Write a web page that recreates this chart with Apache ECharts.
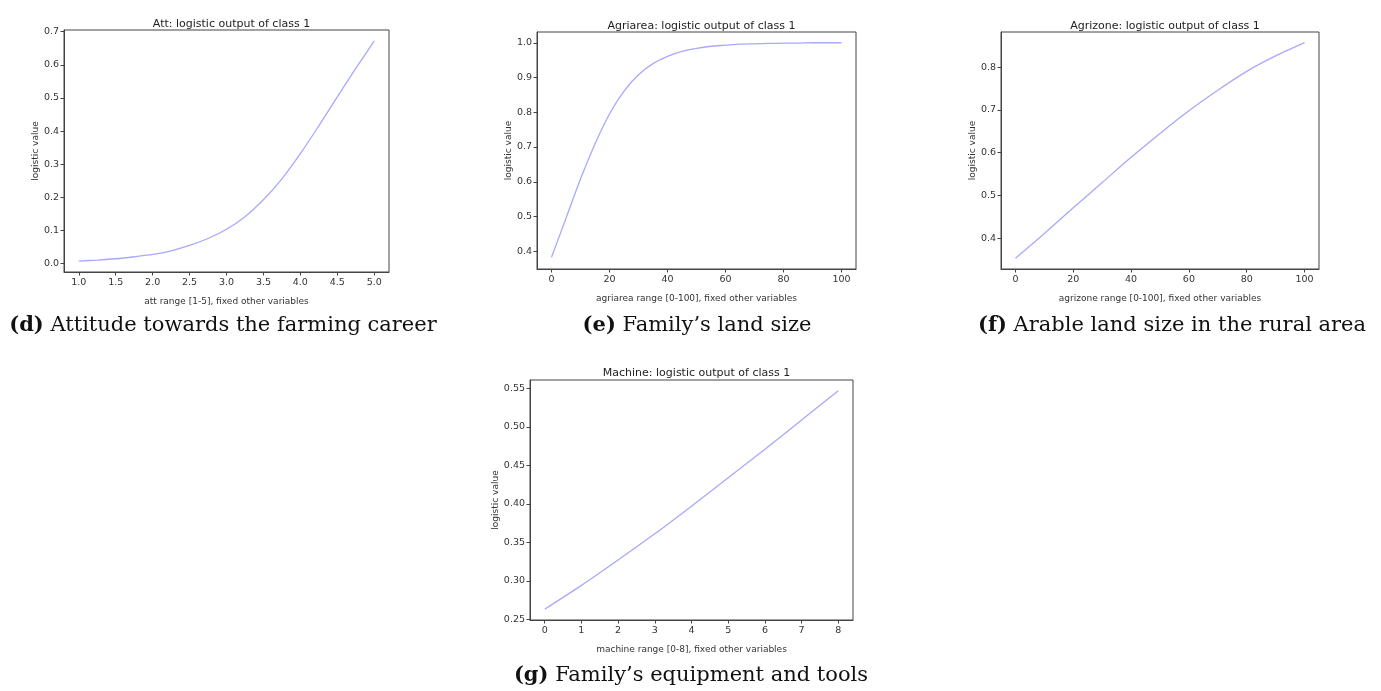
<!DOCTYPE html>
<html>
<head>
<meta charset="utf-8">
<script src="https://cdn.jsdelivr.net/npm/echarts@6/dist/echarts.min.js"></script>
<style>html,body{margin:0;padding:0;background:#fff;}#c{width:1381px;height:691px;}</style>
</head>
<body>
<div id="c"></div>
<script>
// ---- data ----
const attX = [1.0, 1.25, 1.5, 1.75, 2.0, 2.25, 2.5, 2.75, 3.0, 3.25, 3.5, 3.75, 4.0, 4.25, 4.5, 4.75, 5.0];
const attY = [0.008, 0.011, 0.015, 0.021, 0.028, 0.039, 0.055, 0.076, 0.104, 0.142, 0.193, 0.256, 0.332, 0.416, 0.503, 0.589, 0.672];

const agriareaX = [0, 5, 10, 15, 20, 25, 30, 35, 40, 45, 50, 55, 60, 65, 70, 75, 80, 85, 90, 95, 100];
const agriareaY = [0.383, 0.495, 0.608, 0.709, 0.795, 0.861, 0.908, 0.940, 0.961, 0.975, 0.984, 0.990, 0.993, 0.996, 0.997, 0.998, 0.999, 0.999, 1.0, 1.0, 1.0];

const agrizoneX = [0, 10, 20, 30, 40, 50, 60, 70, 80, 90, 100];
const agrizoneY = [0.353, 0.411, 0.471, 0.530, 0.589, 0.645, 0.698, 0.746, 0.790, 0.826, 0.857];

const machineX = [0, 1, 2, 3, 4, 5, 6, 7, 8];
const machineY = [0.263, 0.294, 0.327, 0.361, 0.397, 0.434, 0.471, 0.509, 0.547];

// tick labels
const attXTicks = [1.0, 1.5, 2.0, 2.5, 3.0, 3.5, 4.0, 4.5, 5.0];
const attYTicks = [0.0, 0.1, 0.2, 0.3, 0.4, 0.5, 0.6, 0.7];
const agriareaXTicks = [0, 20, 40, 60, 80, 100];
const agriareaYTicks = [0.4, 0.5, 0.6, 0.7, 0.8, 0.9, 1.0];
const agrizoneXTicks = [0, 20, 40, 60, 80, 100];
const agrizoneYTicks = [0.4, 0.5, 0.6, 0.7, 0.8];
const machineXTicks = [0, 1, 2, 3, 4, 5, 6, 7, 8];
const machineYTicks = [0.25, 0.30, 0.35, 0.40, 0.45, 0.50, 0.55];

const plotTitles = ['Att: logistic output of class 1', 'Agriarea: logistic output of class 1', 'Agrizone: logistic output of class 1', 'Machine: logistic output of class 1'];
const xNames = ['att range [1-5], fixed other variables', 'agriarea range [0-100], fixed other variables', 'agrizone range [0-100], fixed other variables', 'machine range [0-8], fixed other variables'];
const captionLetters = ['d', 'e', 'f', 'g'];
const captionTexts = ['Attitude towards the farming career', 'Family\u2019s land size', 'Arable land size in the rural area', 'Family\u2019s equipment and tools'];

// ---- layout ----
const FONT = 'DejaVu Sans';
const TXT = '#333';
const grids = [
  {left: 64, top: 30, width: 325, height: 242},
  {left: 537, top: 32, width: 319, height: 237},
  {left: 1001, top: 32, width: 318, height: 237},
  {left: 530, top: 380, width: 323, height: 240}
];
const xr = [[0.8, 5.2], [-5, 105], [-5, 105], [-0.4, 8.4]];
const yr = [[-0.025, 0.705], [0.349, 1.031], [0.328, 0.882], [0.249, 0.561]];
const xT = [attXTicks, agriareaXTicks, agrizoneXTicks, machineXTicks];
const yT = [attYTicks, agriareaYTicks, agrizoneYTicks, machineYTicks];
const xF = [v => v.toFixed(1), v => String(Math.round(v)), v => String(Math.round(v)), v => String(Math.round(v))];
const yF = [v => v.toFixed(1), v => v.toFixed(1), v => v.toFixed(1), v => v.toFixed(2)];
const series = [[attX, attY], [agriareaX, agriareaY], [agrizoneX, agrizoneY], [machineX, machineY]];
const yNameGap = [24, 24, 24, 30];
const titleTop = [14, 16, 16, 363];
const captionCenters = [[218, 323], [692, 323], [1167, 323], [686, 673]];

const option = {
  animation: false,
  backgroundColor: '#fff',
  title: [],
  grid: [],
  xAxis: [],
  yAxis: [],
  series: []
};

for (let i = 0; i < 4; i++) {
  const g = grids[i];
  option.grid.push({left: g.left, top: g.top, width: g.width, height: g.height, show: true, borderColor: '#444', borderWidth: 1, backgroundColor: 'transparent', containLabel: false});
  option.title.push({
    text: plotTitles[i], left: g.left + g.width / 2, top: titleTop[i], textAlign: 'center',
    textStyle: {fontFamily: FONT, fontSize: 11, fontWeight: 'normal', color: '#222'}
  });
  option.title.push({
    text: '{b|(' + captionLetters[i] + ')} ' + captionTexts[i],
    left: captionCenters[i][0], top: captionCenters[i][1] - 13, textAlign: 'center',
    textStyle: {fontFamily: 'DejaVu Serif', fontSize: 21, fontWeight: 'normal', color: '#111',
      rich: {b: {fontFamily: 'DejaVu Serif', fontSize: 21, fontWeight: 'bold', color: '#111'}}}
  });
  option.xAxis.push({
    type: 'value', gridIndex: i, min: xr[i][0], max: xr[i][1],
    name: xNames[i], nameLocation: 'middle', nameGap: 25,
    nameTextStyle: {fontFamily: FONT, fontSize: 9, color: TXT},
    axisLine: {show: true, onZero: false, lineStyle: {color: '#444'}},
    axisTick: {show: true, length: 3.5, lineStyle: {color: '#444'}, customValues: xT[i]},
    axisLabel: {fontFamily: FONT, fontSize: 9.5, color: TXT, margin: 6, customValues: xT[i], formatter: xF[i]},
    splitLine: {show: false}
  });
  option.yAxis.push({
    type: 'value', gridIndex: i, min: yr[i][0], max: yr[i][1],
    name: 'logistic value', nameLocation: 'middle', nameGap: yNameGap[i], nameRotate: 90,
    nameTextStyle: {fontFamily: FONT, fontSize: 9, color: TXT},
    axisLine: {show: true, onZero: false, lineStyle: {color: '#444'}},
    axisTick: {show: true, length: 3.5, lineStyle: {color: '#444'}, customValues: yT[i]},
    axisLabel: {fontFamily: FONT, fontSize: 9.5, color: TXT, margin: 5, customValues: yT[i], formatter: yF[i]},
    splitLine: {show: false}
  });
  const xs = series[i][0], ys = series[i][1];
  option.series.push({
    type: 'line', xAxisIndex: i, yAxisIndex: i,
    data: xs.map((x, k) => [x, ys[k]]),
    smooth: 0.3, showSymbol: false, symbol: 'none',
    lineStyle: {color: '#a8a8ff', width: 1.3}
  });
}

const chart = echarts.init(document.getElementById('c'), null, {renderer: 'canvas'});
chart.setOption(option);
</script>
</body>
</html>
